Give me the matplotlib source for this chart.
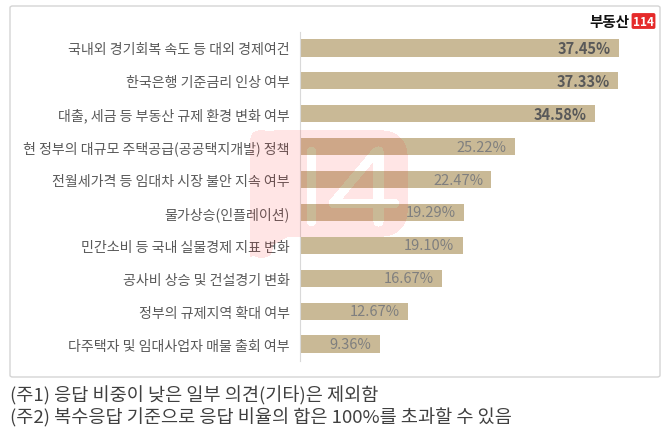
import numpy as np
import matplotlib
matplotlib.use("Agg")
import matplotlib.pyplot as plt
from matplotlib.patches import FancyBboxPatch

plt.rcParams['font.family'] = ['Noto Sans CJK KR', 'DejaVu Sans']

categories = [
    "국내외 경기회복 속도 등 대외 경제여건",
    "한국은행 기준금리 인상 여부",
    "대출, 세금 등 부동산 규제 환경 변화 여부",
    "현 정부의 대규모 주택공급(공공택지개발) 정책",
    "전월세가격 등 임대차 시장 불안 지속 여부",
    "물가상승(인플레이션)",
    "민간소비 등 국내 실물경제 지표 변화",
    "공사비 상승 및 건설경기 변화",
    "정부의 규제지역 확대 여부",
    "다주택자 및 임대사업자 매물 출회 여부",
]
values = [37.45, 37.33, 34.58, 25.22, 22.47, 19.29, 19.10, 16.67, 12.67, 9.36]
value_labels = ["37.45%", "37.33%", "34.58%", "25.22%", "22.47%", "19.29%",
                "19.10%", "16.67%", "12.67%", "9.36%"]
notes = ["(주1) 응답 비중이 낮은 일부 의견(기타)은 제외함",
         "(주2) 복수응답 기준으로 응답 비율의 합은 100%를 초과할 수 있음"]

W, H = 670, 435
fig = plt.figure(figsize=(W / 100, H / 100), dpi=100)

# frame box
fig.patches.append(FancyBboxPatch((10 / W, 1 - 378 / H), 650 / W, 371 / H,
                                  boxstyle="round,pad=0,rounding_size=0.004",
                                  transform=fig.transFigure, facecolor="none",
                                  edgecolor="#d4d4d4", linewidth=1.0, zorder=-1))

ax = fig.add_axes([300 / W, 1 - 361.5 / H, 360 / W, 329 / H])
ax.set_facecolor("none")
y = np.arange(len(categories))
bars = ax.barh(y, values, height=0.52, color="#c9b996", zorder=2)
ax.set_xlim(0, 360 / 8.52)
ax.set_ylim(len(categories) - 0.5, -0.5)
ax.set_yticks(y)
ax.set_yticklabels(categories, fontsize=10.1, color="#595959")
ax.tick_params(axis="y", length=0, pad=7.5)
ax.set_xticks([])
for s in ["top", "right", "bottom"]:
    ax.spines[s].set_visible(False)
ax.spines["left"].set_color("#d9d9d9")
ax.spines["left"].set_linewidth(0.8)

for i, (v, lab) in enumerate(zip(values, value_labels)):
    bold = i < 3
    ax.annotate(lab, xy=(v, i), xytext=(-6, 0), textcoords="offset points",
                ha="right", va="center", fontsize=10.5,
                fontweight="bold" if bold else "normal",
                color="#595959" if bold else "#7f7f7f", zorder=3)

# footnotes
fig.text(10 / W, 1 - 396 / H, notes[0], fontsize=13.4, color="#404040",
         ha="left", va="center")
fig.text(10 / W, 1 - 418 / H, notes[1], fontsize=13.4, color="#404040",
         ha="left", va="center")

# logo top right
fig.text(629 / W, 1 - 22 / H, "부동산", fontsize=10.5, fontweight="bold",
         color="#111111", ha="right", va="center")
fig.text(643.5 / W, 1 - 22 / H, "114", fontsize=8.5, fontweight="bold",
         color="white", ha="center", va="center",
         bbox=dict(boxstyle="round,pad=0.12,rounding_size=0.15",
                   facecolor="#e52a2a", edgecolor="none"))

# faint watermark (decorative)
yy, xx = np.mgrid[0:H, 0:W].astype(float)

def rounded_rect(x0, y0, x1, y1, r):
    cx = np.clip(xx, x0 + r, x1 - r)
    cy = np.clip(yy, y0 + r, y1 - r)
    return ((xx - cx) ** 2 + (yy - cy) ** 2 <= r * r) & (xx >= x0) & (xx <= x1) & (yy >= y0) & (yy <= y1)

def seg(ax_, ay, bx, by, w):
    px, py = xx - ax_, yy - ay
    dx, dy = bx - ax_, by - ay
    t = np.clip((px * dx + py * dy) / (dx * dx + dy * dy), 0, 1)
    return (px - t * dx) ** 2 + (py - t * dy) ** 2 <= w * w

outer = rounded_rect(250, 131, 407, 237, 24)
tail = (xx >= 250) & (xx <= 290) & (yy >= 200) & (yy <= 236 + (290 - xx) * 0.55) & (yy <= 257)
tail |= rounded_rect(250, 131, 272, 258, 8)
shape = outer | tail
holes = (seg(311, 152, 311, 222, 4.5) | seg(378, 152, 378, 222, 5.0)
         | seg(375, 153, 333, 203, 4.5) | seg(333, 204, 394, 204, 4.5))
mask = shape & ~holes
img = np.zeros((H, W, 4))
img[..., 0] = 1.0
img[..., 1] = 0.1
img[..., 2] = 0.1
img[..., 3] = mask * 0.11
fig.figimage(img, xo=0, yo=0, origin="upper", zorder=5)

fig.savefig("out.png", dpi=100)
